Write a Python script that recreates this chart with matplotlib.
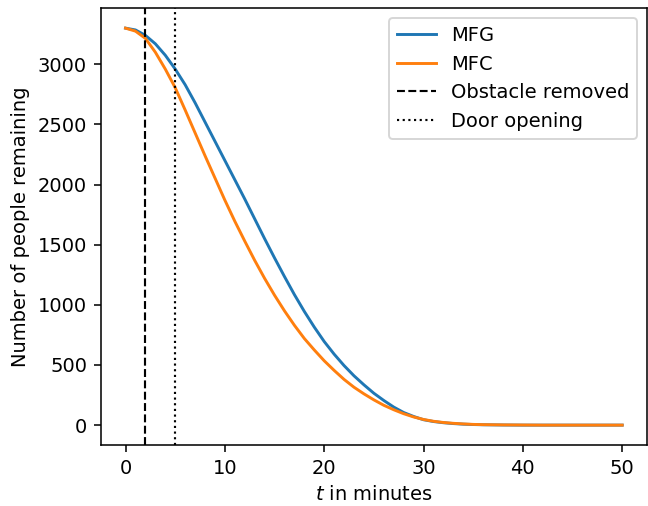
import matplotlib
matplotlib.use("Agg")
import matplotlib.pyplot as plt

plt.rcParams['font.size'] = 10

t = [0, 1, 2, 3, 4, 5, 6, 7, 8, 9, 10, 11, 12, 13, 14, 15, 16, 17, 18, 19, 20,
     21, 22, 23, 24, 25, 26, 27, 28, 29, 30, 31, 32, 33, 34, 35, 36, 37, 38,
     40, 42, 45, 50]

mfg = [3300, 3285, 3240, 3170, 3075, 2960, 2830, 2680, 2520, 2360, 2200,
       2040, 1880, 1715, 1550, 1390, 1235, 1085, 945, 815, 695,
       590, 495, 410, 335, 265, 205, 150, 105, 72, 45, 30, 20, 13, 8, 5, 3, 2, 1,
       0, 0, 0, 0]

mfc = [3300, 3275, 3215, 3100, 2960, 2805, 2620, 2430, 2240, 2055, 1870,
       1695, 1530, 1370, 1220, 1080, 950, 830, 720, 625, 535,
       455, 380, 315, 260, 210, 165, 128, 95, 68, 47, 32, 22, 15, 10, 6, 4, 3, 2,
       1, 0, 0, 0]

obstacle_removed_t = 2
door_opening_t = 5

DPI = 140
fig = plt.figure(figsize=(648 / DPI, 506 / DPI), dpi=DPI)
ax = fig.add_axes([0.1554, 0.1206, 0.9985 - 0.1554, 0.9836 - 0.1206])

ax.plot(t, mfg, color='#1f77b4', lw=1.5, label='MFG')
ax.plot(t, mfc, color='#ff7f0e', lw=1.5, label='MFC')
ax.axvline(obstacle_removed_t, color='black', ls='--', lw=1.1, label='Obstacle removed')
ax.axvline(door_opening_t, color='black', ls=':', lw=1.1, label='Door opening')

ax.set_xlabel('$t$ in minutes')
ax.set_ylabel('Number of people remaining')
ax.set_xticks([0, 10, 20, 30, 40, 50])
ax.set_yticks([0, 500, 1000, 1500, 2000, 2500, 3000])
ax.legend(loc='upper right')

fig.savefig('out.png', dpi=DPI)
